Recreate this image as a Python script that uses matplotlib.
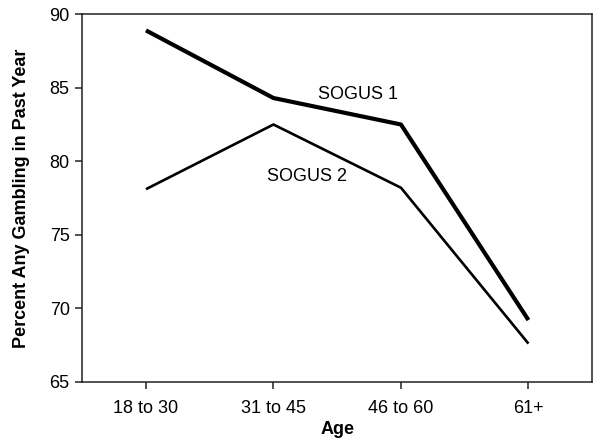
import numpy as np
import matplotlib.pyplot as plt

plt.rcParams['font.family'] = ['Liberation Sans', 'DejaVu Sans']

ages = ['18 to 30', '31 to 45', '46 to 60', '61+']
sogus1 = [88.9, 84.3, 82.5, 69.2]
sogus2 = [78.1, 82.5, 78.2, 67.6]

x = np.arange(len(ages))

fig = plt.figure(figsize=(6, 4.44), dpi=100)
ax = fig.add_axes([0.137, 0.14, 0.85, 0.828])

ax.plot(x, sogus1, color='black', lw=3.0, solid_capstyle='butt')
ax.plot(x, sogus2, color='black', lw=1.9, solid_capstyle='butt')

ax.text(1.66, 84.57, 'SOGUS 1', fontsize=13, ha='center', va='center')
ax.text(1.26, 78.95, 'SOGUS 2', fontsize=13, ha='center', va='center')

ax.set_xlim(-0.5, 3.5)
ax.set_ylim(65, 90)
ax.set_xticks(x)
ax.set_xticklabels(ages)
ax.set_yticks(np.arange(65, 91, 5))
ax.tick_params(labelsize=13, length=5, width=1.1, color='#222222')
ax.tick_params(axis='x', pad=8)
ax.tick_params(axis='y', pad=4)
for s in ax.spines.values():
    s.set_linewidth(1.1)
    s.set_color('#222222')

ax.set_xlabel('Age', fontsize=13, fontweight='bold', labelpad=3)
ax.set_ylabel('Percent Any Gambling in Past Year', fontsize=13, fontweight='bold', labelpad=14)

fig.savefig('out.png', dpi=100)
plt.close()
